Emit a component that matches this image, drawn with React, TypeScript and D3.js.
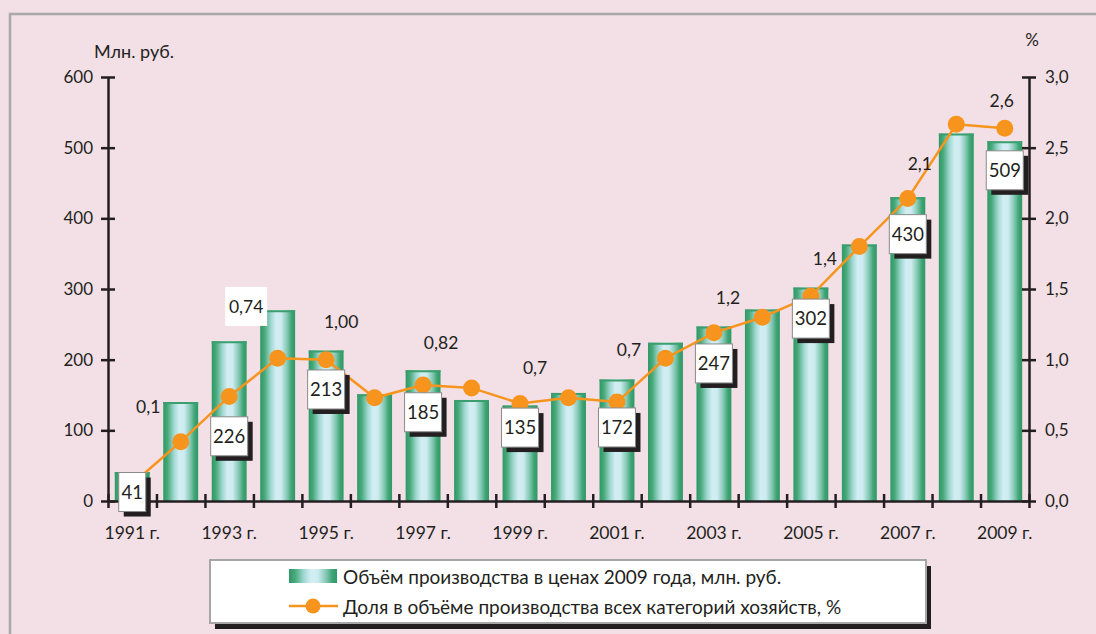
import React, { useEffect, useRef } from 'react'
import * as d3 from 'd3'

// годы и значения
const years = [1991, 1992, 1993, 1994, 1995, 1996, 1997, 1998, 1999, 2000,
  2001, 2002, 2003, 2004, 2005, 2006, 2007, 2008, 2009]
const volume = [41, 140, 226, 270, 213, 151, 185, 143, 135, 153,
  172, 224, 247, 271, 302, 363, 430, 520, 509]
const share = [0.12, 0.42, 0.74, 1.01, 1.0, 0.73, 0.82, 0.8, 0.69, 0.73,
  0.7, 1.01, 1.19, 1.3, 1.45, 1.8, 2.14, 2.665, 2.637]

const labelYears = [1991, 1993, 1995, 1997, 1999, 2001, 2003, 2005, 2007, 2009]
const volumeLabels = ['41', '226', '213', '185', '135', '172', '247', '302', '430', '509']
const shareLabels = ['0,1', '0,74', '1,00', '0,82', '0,7', '0,7', '1,2', '1,4', '2,1', '2,6']
const xTickLabels = ['1991 г.', '1993 г.', '1995 г.', '1997 г.', '1999 г.', '2001 г.', '2003 г.', '2005 г.', '2007 г.', '2009 г.']

const leftTicks = [0, 100, 200, 300, 400, 500, 600]
const rightTicks = [0, 0.5, 1, 1.5, 2, 2.5, 3]
const rightTickLabels = ['0,0', '0,5', '1,0', '1,5', '2,0', '2,5', '3,0']

const leftTitle = 'Млн. руб.'
const rightTitle = '%'
const legendBars = 'Объём производства в ценах 2009 года, млн. руб.'
const legendLine = 'Доля в объёме производства всех категорий хозяйств, %'

// сдвиги подписей (чтобы не налезали на линию)
const volLabelDy = [20, 95, 39, 42, 22, 48, 37, 31, 37, 29]
const shareLabelDx = [16, 17, 15, 18, 15, 12, 14, 14, 12, -3]
const shareLabelDy = [-77, -90, -38, -42, -36, -52, -35, -37, -35, -27]

const FONT = 'Lato, "Open Sans", sans-serif'
const INK = '#231f20'
const ORANGE = '#f7941d'

function App() {
  const ref = useRef<SVGSVGElement>(null)

  const W = 1096, H = 634
  const left = 108, right = 1029, top = 77, bottom = 501

  useEffect(() => {
    const svg = d3.select(ref.current)
    svg.selectAll('*').remove()

    const defs = svg.append('defs')
    const grad = defs.append('linearGradient').attr('id', 'barGrad')
      .attr('x1', 0).attr('x2', 1).attr('y1', 0).attr('y2', 0)
    const stops: [number, string][] = [
      [0, '#2e9866'], [0.12, '#46a878'], [0.3, '#9dd6cf'], [0.45, '#d2eef3'],
      [0.6, '#cdebf0'], [0.78, '#7fc6b0'], [0.9, '#3fa473'], [1, '#2e9866']]
    stops.forEach(([o, c]) => grad.append('stop').attr('offset', o).attr('stop-color', c))

    svg.append('rect').attr('width', W).attr('height', H).attr('fill', '#f2e0e6')
    svg.append('path').attr('d', `M10,${H} V14 H${W}`)
      .attr('fill', 'none').attr('stroke', '#a9a9a9').attr('stroke-width', 2.5)

    const x = d3.scaleBand<number>().domain(years).range([left, right])
      .paddingInner(0.28).paddingOuter(0.14)
    const yL = d3.scaleLinear().domain([0, 600]).range([bottom, top])
    const yR = d3.scaleLinear().domain([0, 3]).range([bottom, top])
    const cx = (yr: number) => (x(yr) as number) + x.bandwidth() / 2

    // столбики
    const bars = svg.append('g')
    bars.selectAll('rect').data(years).enter().append('rect')
      .attr('x', d => x(d) as number)
      .attr('y', (d, i) => yL(volume[i]))
      .attr('width', x.bandwidth())
      .attr('height', (d, i) => bottom - yL(volume[i]))
      .attr('fill', 'url(#barGrad)')
    bars.selectAll('line').data(years).enter().append('line')
      .attr('x1', d => x(d) as number)
      .attr('x2', d => (x(d) as number) + x.bandwidth())
      .attr('y1', (d, i) => yL(volume[i]) + 1)
      .attr('y2', (d, i) => yL(volume[i]) + 1)
      .attr('stroke', '#3a9e6e').attr('stroke-width', 2)

    // оси
    const styleAxis = (g: any) => {
      g.select('.domain').attr('stroke', INK).attr('stroke-width', 2.5)
      g.selectAll('.tick line').attr('stroke', INK).attr('stroke-width', 2.5)
      g.selectAll('text').attr('fill', INK).style('font-family', FONT).style('font-size', '17px')
    }
    const gL = svg.append('g').attr('transform', `translate(${left},0)`)
      .call(d3.axisLeft(yL).tickValues(leftTicks).tickSize(7).tickPadding(8).tickSizeOuter(0))
    styleAxis(gL)
    gL.selectAll('.tick line').attr('x1', 7)

    const gR = svg.append('g').attr('transform', `translate(${right},0)`)
      .call(d3.axisRight(yR).tickValues(rightTicks).tickSize(7).tickPadding(9).tickSizeOuter(0)
        .tickFormat((d, i) => rightTickLabels[i]))
    styleAxis(gR)
    gR.selectAll('.tick line').attr('x1', -7)

    const xi = d3.scaleLinear().domain([0, years.length]).range([left, right])
    const gX = svg.append('g').attr('transform', `translate(0,${bottom})`)
      .call(d3.axisBottom(xi).tickValues(d3.range(years.length + 1)).tickSize(7)
        .tickSizeOuter(0).tickFormat(() => ''))
    styleAxis(gX)
    gX.selectAll('.tick line').attr('y1', -7)

    svg.append('g').selectAll('text').data(labelYears).enter().append('text')
      .attr('x', d => cx(d)).attr('y', 533).attr('dy', '0.35em')
      .attr('text-anchor', 'middle').attr('fill', INK)
      .style('font-family', FONT).style('font-size', '17.5px')
      .text((d, i) => xTickLabels[i])

    svg.append('text').attr('x', 134).attr('y', 52).attr('dy', '0.35em')
      .attr('text-anchor', 'middle').attr('fill', INK)
      .style('font-family', FONT).style('font-size', '18px').text(leftTitle)
    svg.append('text').attr('x', 1032).attr('y', 40).attr('dy', '0.35em')
      .attr('text-anchor', 'middle').attr('fill', INK)
      .style('font-family', FONT).style('font-size', '17px').text(rightTitle)

    // линия доли
    const line = d3.line<number>().x((d, i) => cx(years[i])).y(d => yR(d))
    svg.append('path').datum(share).attr('d', line)
      .attr('fill', 'none').attr('stroke', ORANGE).attr('stroke-width', 2.5)
    svg.append('g').selectAll('circle').data(share).enter().append('circle')
      .attr('cx', (d, i) => cx(years[i])).attr('cy', d => yR(d)).attr('r', 8.5)
      .attr('fill', ORANGE)

    // подписи объёма в рамках с тенью
    const vl = svg.append('g').selectAll('g').data(labelYears).enter().append('g')
      .attr('transform', (d, i) => {
        const v = volume[years.indexOf(d)]
        return `translate(${cx(d)},${yL(v) + volLabelDy[i]})`
      })
    const boxW = (i: number) => volumeLabels[i].length > 2 ? 37 : 27
    vl.append('rect')
      .attr('x', (d, i) => -boxW(i) / 2 + 5).attr('y', -19.5 + 5)
      .attr('width', (d, i) => boxW(i)).attr('height', 39).attr('fill', INK)
    vl.append('rect')
      .attr('x', (d, i) => -boxW(i) / 2).attr('y', -19.5)
      .attr('width', (d, i) => boxW(i)).attr('height', 39)
      .attr('fill', '#fff').attr('stroke', '#8a8a8a').attr('stroke-width', 1)
    vl.append('text').attr('text-anchor', 'middle').attr('dy', '0.36em')
      .attr('fill', INK).style('font-family', FONT).style('font-size', '18.5px')
      .text((d, i) => volumeLabels[i])

    // подписи доли
    const sl = svg.append('g').selectAll('g').data(labelYears).enter().append('g')
      .attr('transform', (d, i) => {
        const v = share[years.indexOf(d)]
        return `translate(${cx(d) + shareLabelDx[i]},${yR(v) + shareLabelDy[i]})`
      })
    sl.filter((d, i) => i === 1).append('rect')
      .attr('x', -21).attr('y', -19.5).attr('width', 42).attr('height', 39).attr('fill', '#fff')
    sl.append('text').attr('text-anchor', 'middle').attr('dy', '0.35em')
      .attr('fill', INK).style('font-family', FONT).style('font-size', '17.5px')
      .text((d, i) => shareLabels[i])

    // легенда
    const lg = svg.append('g')
    lg.append('rect').attr('x', 215).attr('y', 566).attr('width', 716).attr('height', 63).attr('fill', INK)
    lg.append('rect').attr('x', 210).attr('y', 560).attr('width', 716).attr('height', 63)
      .attr('fill', '#fff').attr('stroke', '#a6a6a6').attr('stroke-width', 2)
    lg.append('rect').attr('x', 289).attr('y', 569).attr('width', 48).attr('height', 14)
      .attr('fill', 'url(#barGrad)')
    lg.append('line').attr('x1', 289).attr('x2', 338).attr('y1', 606).attr('y2', 606)
      .attr('stroke', ORANGE).attr('stroke-width', 2.5)
    lg.append('circle').attr('cx', 313).attr('cy', 606).attr('r', 7.5).attr('fill', ORANGE)
    lg.append('text').attr('x', 343).attr('y', 577).attr('dy', '0.35em')
      .attr('fill', INK).style('font-family', FONT).style('font-size', '19px').text(legendBars)
    lg.append('text').attr('x', 343).attr('y', 607).attr('dy', '0.35em')
      .attr('fill', INK).style('font-family', FONT).style('font-size', '19px').text(legendLine)
  }, [])

  return (
    <svg ref={ref} width={W} height={H} viewBox={`0 0 ${W} ${H}`}
      style={{ position: 'absolute', left: 0, top: 0, display: 'block' }} />
  )
}

export default App
